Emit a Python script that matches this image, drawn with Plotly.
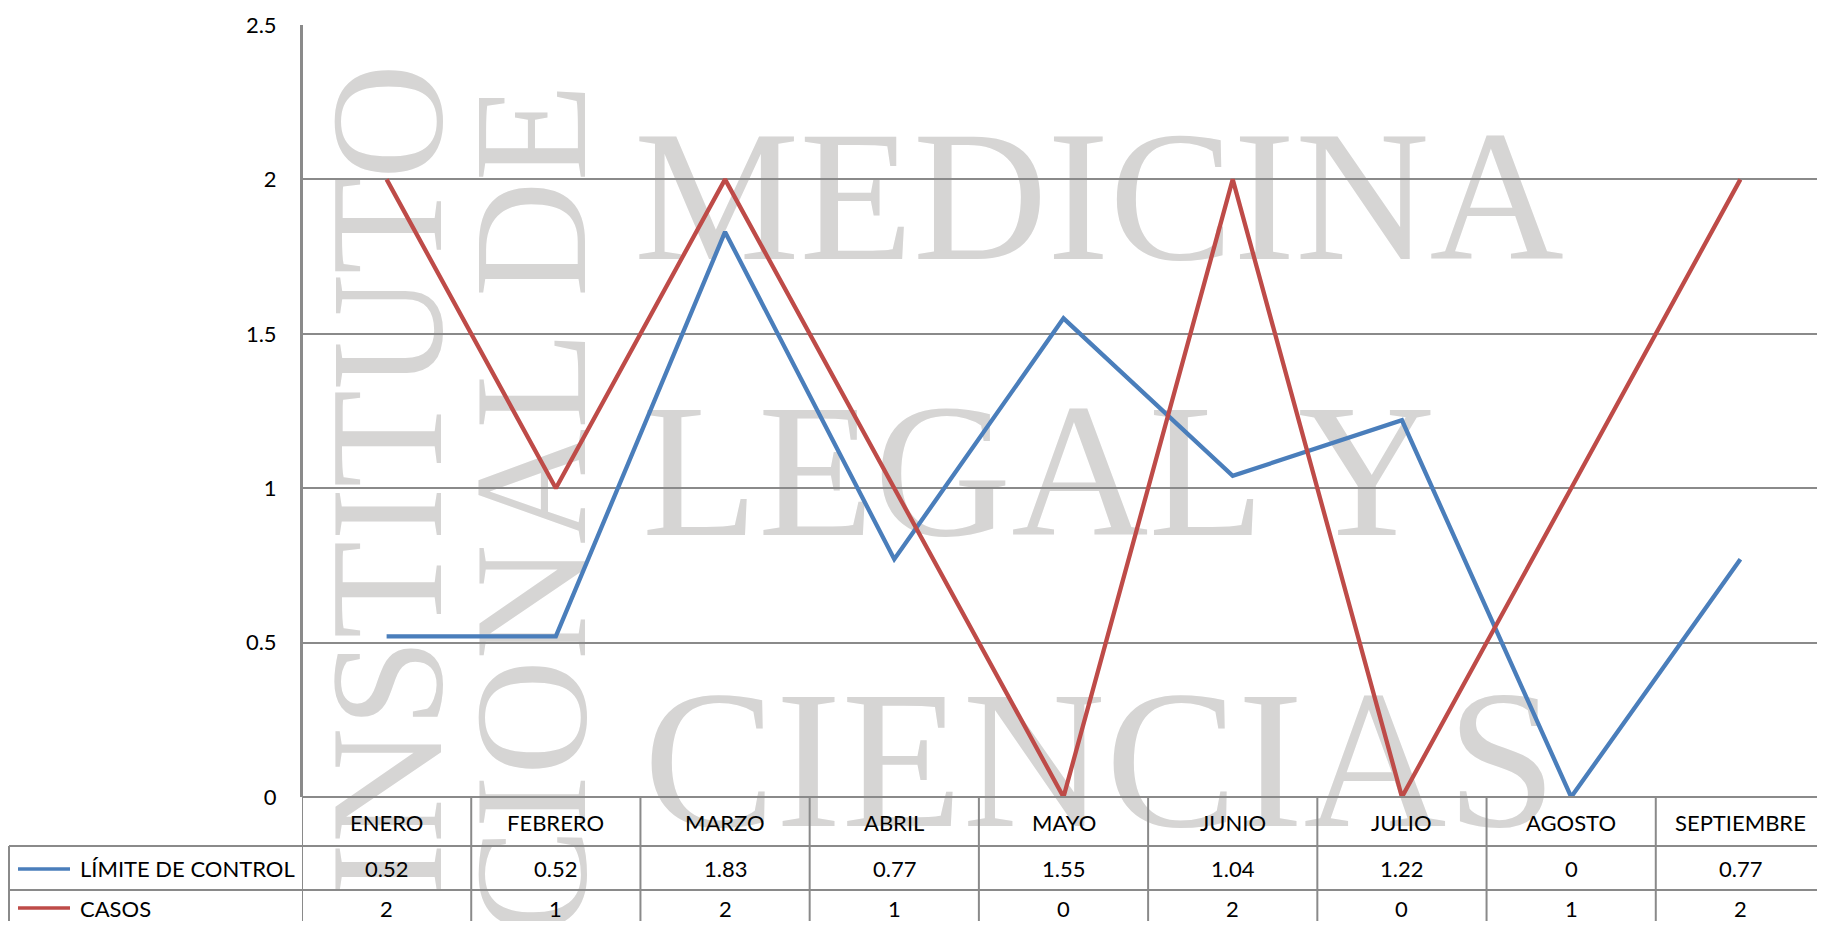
import plotly.graph_objects as go

# ---- data ----
months = ["ENERO", "FEBRERO", "MARZO", "ABRIL", "MAYO", "JUNIO", "JULIO", "AGOSTO", "SEPTIEMBRE"]
limite = [0.52, 0.52, 1.83, 0.77, 1.55, 1.04, 1.22, 0, 0.77]
casos = [2, 1, 2, 1, 0, 2, 0, 1, 2]
series_names = ["LÍMITE DE CONTROL", "CASOS"]
y_ticks = [0, 0.5, 1, 1.5, 2, 2.5]
watermark_words = ["MEDICINA", "LEGAL Y", "CIENCIAS", "INSTITUTO", "NACIONAL DE"]

# ---- layout geometry (page pixels; the page body has an 8px margin) ----
OFF = 8
FIG_W, FIG_H = 1825 - 2 * OFF, 929 - 2 * OFF
PLOT_LEFT, PLOT_TOP, PLOT_BOTTOM = 302, 25, 797          # page coords
PLOT_RIGHT = OFF + FIG_W                                 # page coords
L = PLOT_LEFT - OFF
T = PLOT_TOP - OFF
B = OFF + FIG_H - PLOT_BOTTOM
R = 0
PW = PLOT_RIGHT - PLOT_LEFT
PH = PLOT_BOTTOM - PLOT_TOP
CAT_W = (1825 - PLOT_LEFT) / len(months)

def px(X):
    return (X - PLOT_LEFT) / PW

def py(Y):
    return (PLOT_BOTTOM - Y) / PH

BLUE = "#4A7EBB"
RED = "#BE4B48"
GRID = "#8A8A8A"
WM = "#D6D5D4"
FONT = "Lato, Carlito, Calibri, sans-serif"
TXT = 22

fig = go.Figure()
fig.add_trace(go.Scatter(x=months, y=limite, mode="lines", name=series_names[0],
                         line=dict(color=BLUE, width=4.3), showlegend=False))
fig.add_trace(go.Scatter(x=months, y=casos, mode="lines", name=series_names[1],
                         line=dict(color=RED, width=4.3), showlegend=False))

shapes = []
annotations = []

# ---- watermark (behind gridlines) ----
wm_boxes = [
    (watermark_words[0], 638, 72, 1560, 279, 0, 186),
    (watermark_words[1], 640, 345, 1437, 555, 0, 190),
    (watermark_words[2], 640, 630, 1560, 845, 0, 198),
    (watermark_words[3], 318, 70, 422, 890, -90, 160),
    (watermark_words[4], 462, 70, 566, 1180, -90, 160),
]
for text, x0, y0, x1, y1, ang, size in wm_boxes:
    shapes.append(dict(type="rect", xref="paper", yref="paper",
                       x0=px(x0), x1=px(x1), y0=py(y1), y1=py(y0),
                       fillcolor="rgba(0,0,0,0)", line=dict(width=0), layer="below",
                       label=dict(text=text, textangle=ang, textposition="middle center",
                                  font=dict(family="Liberation Serif, Times New Roman, serif",
                                            size=size, color=WM))))

# ---- data table ----
n = len(months)
y_hdr_bot = py(846)
y_row2_bot = py(890)
y_bottom = py(960)
x_leg_left = px(9)

for yy in (y_hdr_bot, y_row2_bot):
    shapes.append(dict(type="line", xref="paper", yref="paper", x0=x_leg_left, x1=1.0,
                       y0=yy, y1=yy, line=dict(color=GRID, width=2), layer="above"))
shapes.append(dict(type="line", xref="paper", yref="paper", x0=0, x1=1.0,
                   y0=0, y1=0, line=dict(color=GRID, width=2), layer="above"))
for i in range(n + 1):
    shapes.append(dict(type="line", xref="x", yref="paper", x0=i - 0.5, x1=i - 0.5,
                       y0=y_bottom, y1=0 if i > 0 else 1, line=dict(color=GRID, width=2),
                       layer="above"))
shapes.append(dict(type="line", xref="paper", yref="paper", x0=x_leg_left, x1=x_leg_left,
                   y0=y_bottom, y1=y_hdr_bot, line=dict(color=GRID, width=2), layer="above"))

row_y = [py(823), py(869), py(908)]
for i, m in enumerate(months):
    for r, txt in enumerate([m, f"{limite[i]:g}", f"{casos[i]:g}"]):
        annotations.append(dict(x=m, y=row_y[r], xref="x", yref="paper", text=txt,
                                showarrow=False, xanchor="center", yanchor="middle",
                                font=dict(family=FONT, size=TXT, color="#000000")))

# legend keys
for k, (name, col) in enumerate(zip(series_names, [BLUE, RED])):
    yy = row_y[k + 1]
    shapes.append(dict(type="line", xref="paper", yref="paper", x0=px(18), x1=px(70),
                       y0=yy, y1=yy, line=dict(color=col, width=3.5), layer="above"))
    annotations.append(dict(x=px(78), y=yy, xref="paper", yref="paper", text=name,
                            showarrow=False, xanchor="left", yanchor="middle",
                            font=dict(family=FONT, size=TXT, color="#000000")))

fig.update_layout(
    width=FIG_W, height=FIG_H,
    margin=dict(l=L, r=R, t=T, b=B, pad=0),
    paper_bgcolor="white", plot_bgcolor="rgba(0,0,0,0)",
    showlegend=False,
    shapes=shapes, annotations=annotations,
    xaxis=dict(type="category", categoryorder="array", categoryarray=months,
               range=[-0.5, -0.5 + PW / CAT_W], showticklabels=False, showgrid=False,
               zeroline=False, showline=False, ticks=""),
    yaxis=dict(range=[0, 2.5], tickvals=y_ticks, ticktext=[f"{v:g}" for v in y_ticks],
               showgrid=True, gridcolor=GRID, gridwidth=1.5, zeroline=False,
               showline=True, linecolor=GRID, linewidth=2, ticks="",
               ticklabelstandoff=19,
               tickfont=dict(family=FONT, size=TXT, color="#000000")),
)

fig.write_html("out.html")
